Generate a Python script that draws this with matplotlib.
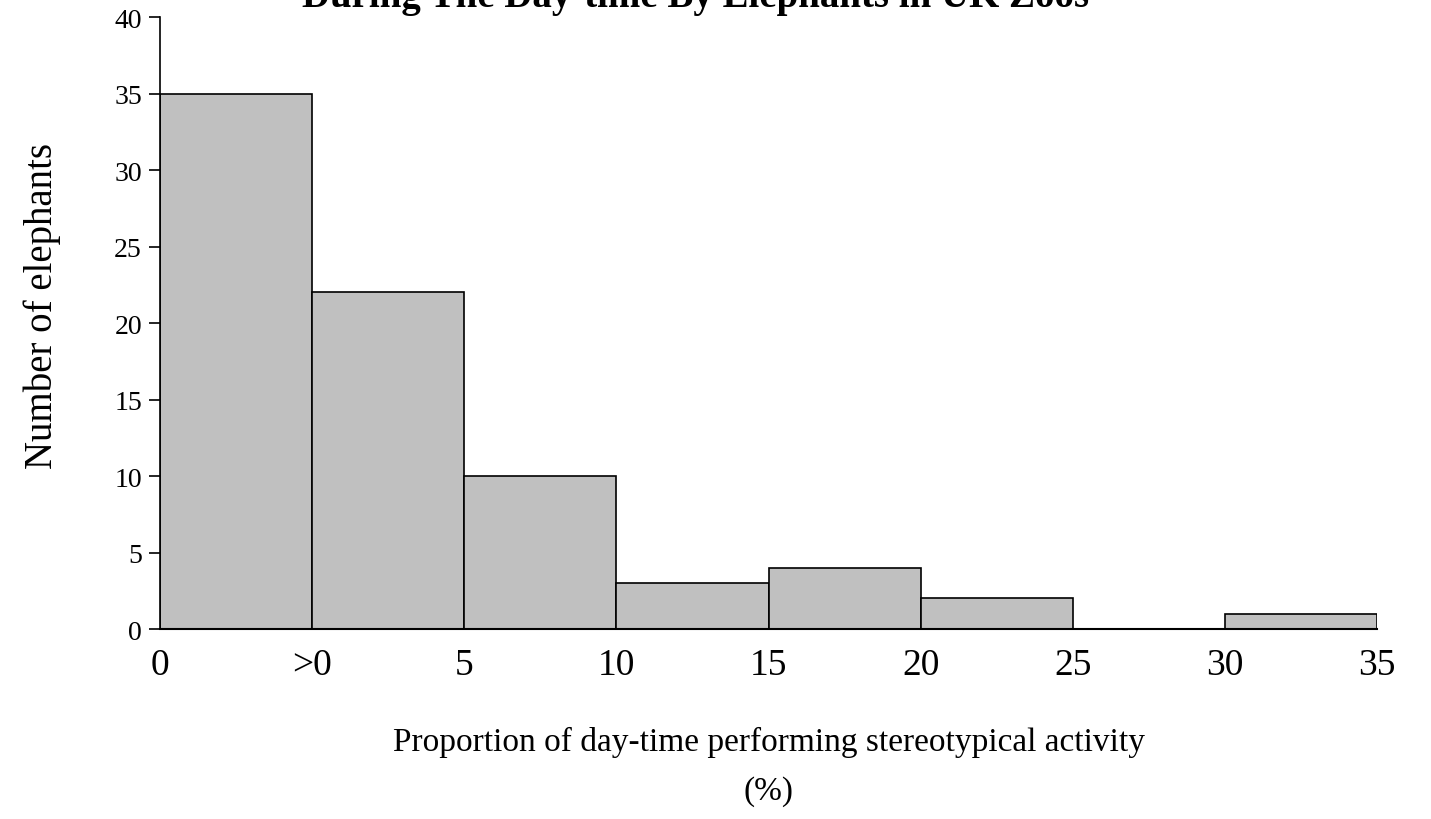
import matplotlib.pyplot as plt
import numpy as np

plt.rcParams['font.family'] = ['Liberation Serif', 'DejaVu Serif']

# ---------------------------
# DATA
# ---------------------------
bin_labels = ["0", ">0", "5", "10", "15", "20", "25", "30", "35"]
counts = [35, 22, 10, 3, 4, 2, 0, 1]
y_ticks = [0, 5, 10, 15, 20, 25, 30, 35, 40]

# ---------------------------
# PLOT
# ---------------------------
fig = plt.figure(figsize=(14.31, 8.2), dpi=100)
ax = fig.add_axes([0.1118, 0.2317, 0.8505, 0.7463])

edges = np.arange(len(bin_labels))
ax.bar(edges[:-1], counts, width=1.0, align="edge",
       color="#c0c0c0", edgecolor="black", linewidth=1.2)

ax.set_xlim(0, len(counts))
ax.set_ylim(0, 40)
ax.set_yticks(y_ticks)
ax.tick_params(axis="y", labelsize=20, length=8, width=1.2, direction="out", pad=5)

ax.set_xticks(edges)
ax.set_xticklabels(bin_labels, fontsize=27)
ax.tick_params(axis="x", length=0, pad=13)
# only the two end ticks hang below the axis
ax.set_xticks([0, len(counts)], minor=True)
ax.tick_params(axis="x", which="minor", length=12, width=1.2, direction="out")

for s in ["top", "right"]:
    ax.spines[s].set_visible(False)
ax.spines["left"].set_linewidth(1.2)
ax.spines["bottom"].set_linewidth(1.5)

ax.set_ylabel("Number of elephants", fontsize=28)
ax.yaxis.set_label_coords(-0.081, 0.53)
ax.set_xlabel("Proportion of day-time performing stereotypical activity\n(%)",
              fontsize=24, labelpad=32, linespacing=1.75)

fig.text(0.486, 1 - 7 / 820, "Stereotypical Activity\nDuring The Day-time By Elephants in UK Zoos",
         ha="center", va="baseline", fontsize=28, fontweight="bold")

plt.savefig("out.png", dpi=100)
